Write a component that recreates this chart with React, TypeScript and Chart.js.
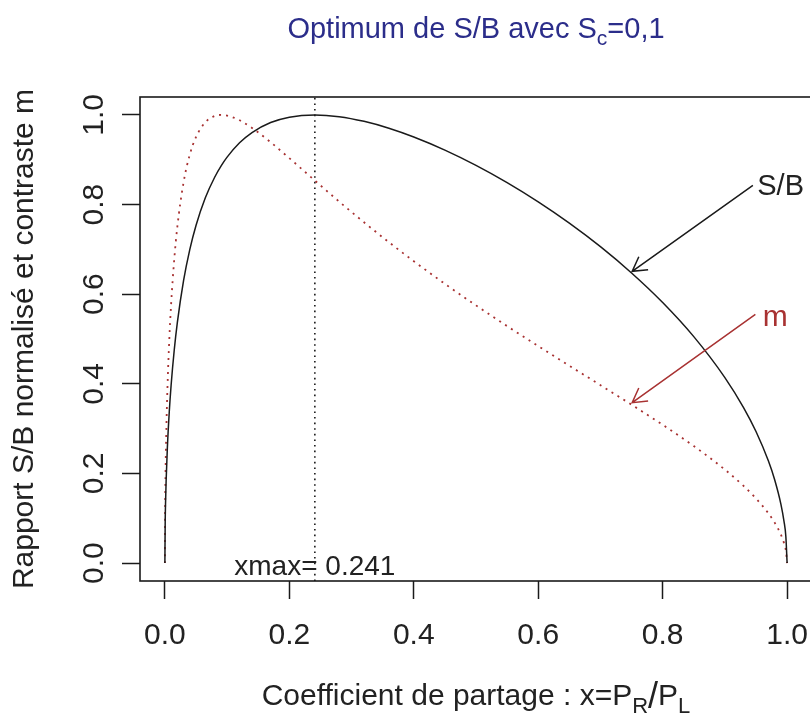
import { useEffect, useRef } from "react";
import { Chart, registerables } from "chart.js";

Chart.register(...registerables);

const FONT = "'Liberation Sans', Arial, Helvetica, sans-serif";
const INK = "#1a1a1a";
const TXT = "#222222";
const RED = "#a83232";
const NAVY = "#2b2d8a";

// Axes
const xLimits = [-0.04, 1.04];
const yLimits = [-0.04, 1.04];
const xTicks = [0, 0.2, 0.4, 0.6, 0.8, 1.0];
const yTicks = [0, 0.2, 0.4, 0.6, 0.8, 1.0];

// Partition coefficient samples
const xs = [0, 0.0005, 0.001, 0.002, 0.004, 0.007, 0.01, 0.015, 0.02, 0.03, 0.04, 0.05, 0.065, 0.08, 0.0909, 0.1, 0.12, 0.14, 0.17, 0.2, 0.241, 0.28, 0.32, 0.36, 0.4, 0.45, 0.5, 0.55, 0.6, 0.65, 0.7, 0.75, 0.8, 0.85, 0.9, 0.93, 0.95, 0.97, 0.98, 0.99, 0.995, 0.998, 1.0];

// S/B normalised (solid black)
const sbY = [0, 0.0928, 0.131, 0.1843, 0.2581, 0.3366, 0.3967, 0.4749, 0.5364, 0.6301, 0.6994, 0.7533, 0.815, 0.861, 0.8874, 0.9059, 0.9378, 0.9607, 0.983, 0.995, 1.0, 0.9961, 0.9857, 0.9703, 0.9507, 0.9215, 0.8874, 0.8489, 0.806, 0.7585, 0.706, 0.6474, 0.5814, 0.5053, 0.4139, 0.3469, 0.2935, 0.2276, 0.186, 0.1316, 0.0931, 0.0589, 0];

// contrast m (dotted red)
const mY = [0, 0.1408, 0.1981, 0.2776, 0.3853, 0.4961, 0.5773, 0.6773, 0.7504, 0.8495, 0.9113, 0.9506, 0.9837, 0.9976, 1.0, 0.9986, 0.9881, 0.971, 0.939, 0.9035, 0.8536, 0.8067, 0.7604, 0.716, 0.6736, 0.6231, 0.575, 0.5288, 0.4841, 0.4404, 0.397, 0.3534, 0.3085, 0.2611, 0.2085, 0.1722, 0.1443, 0.1109, 0.0902, 0.0635, 0.0448, 0.0283, 0];

// optimum
const xmax = 0.241;
const xmaxLabel = "xmax= 0.241";
const xmaxLabelY = -0.009;

// annotations (data coordinates)
const sbArrowFrom = [0.945, 0.843];
const sbArrowTo = [0.751, 0.651];
const sbLabelAt = [0.952, 0.839];
const mArrowFrom = [0.949, 0.555];
const mArrowTo = [0.751, 0.358];
const mLabelAt = [0.961, 0.548];

type Part = { t: string; size: number; dy: number };

function drawRich(ctx: CanvasRenderingContext2D, parts: Part[], cx: number, baseline: number, color: string) {
  let total = 0;
  const widths = parts.map((p) => {
    ctx.font = `${p.size}px ${FONT}`;
    const w = ctx.measureText(p.t).width;
    total += w;
    return w;
  });
  let x = cx - total / 2;
  ctx.fillStyle = color;
  ctx.textAlign = "left";
  ctx.textBaseline = "alphabetic";
  parts.forEach((p, i) => {
    ctx.font = `${p.size}px ${FONT}`;
    ctx.fillText(p.t, x, baseline + p.dy);
    x += widths[i];
  });
}

function drawArrow(ctx: CanvasRenderingContext2D, x0: number, y0: number, x1: number, y1: number, color: string) {
  const len = 16;
  const ang = Math.atan2(y0 - y1, x0 - x1);
  ctx.strokeStyle = color;
  ctx.lineWidth = 1.5;
  ctx.beginPath();
  ctx.moveTo(x0, y0);
  ctx.lineTo(x1, y1);
  ctx.moveTo(x1 + len * Math.cos(ang + Math.PI / 6), y1 + len * Math.sin(ang + Math.PI / 6));
  ctx.lineTo(x1, y1);
  ctx.lineTo(x1 + len * Math.cos(ang - Math.PI / 6), y1 + len * Math.sin(ang - Math.PI / 6));
  ctx.stroke();
}

const rPlot = {
  id: "rPlot",
  afterDraw(chart: any) {
    const { ctx, chartArea: a, scales } = chart;
    const sx = scales.x;
    const sy = scales.y;
    const px = (v: number) => sx.getPixelForValue(v);
    const py = (v: number) => sy.getPixelForValue(v);
    ctx.save();
    // box
    ctx.strokeStyle = INK;
    ctx.lineWidth = 1.6;
    ctx.strokeRect(a.left, a.top, a.right - a.left, a.bottom - a.top);

    // arrows
    drawArrow(ctx, px(sbArrowFrom[0]), py(sbArrowFrom[1]), px(sbArrowTo[0]), py(sbArrowTo[1]), INK);
    drawArrow(ctx, px(mArrowFrom[0]), py(mArrowFrom[1]), px(mArrowTo[0]), py(mArrowTo[1]), RED);

    // labels
    ctx.textBaseline = "middle";
    ctx.textAlign = "left";
    ctx.font = `29px ${FONT}`;
    ctx.fillStyle = TXT;
    ctx.fillText("S/B", px(sbLabelAt[0]), py(sbLabelAt[1]));
    ctx.font = `30px ${FONT}`;
    ctx.fillStyle = RED;
    ctx.fillText("m", px(mLabelAt[0]), py(mLabelAt[1]));
    ctx.textAlign = "center";
    ctx.font = `28px ${FONT}`;
    ctx.fillStyle = TXT;
    ctx.fillText(xmaxLabel, px(xmax), py(xmaxLabelY));

    const cx = (a.left + a.right) / 2;
    const cy = (a.top + a.bottom) / 2;

    // main title
    drawRich(
      ctx,
      [
        { t: "Optimum de S/B avec S", size: 29, dy: 0 },
        { t: "c", size: 21, dy: 7 },
        { t: "=0,1", size: 29, dy: 0 },
      ],
      cx,
      a.top - 59,
      NAVY
    );

    // x title
    drawRich(
      ctx,
      [
        { t: "Coefficient de partage : x=P", size: 30, dy: 0 },
        { t: "R", size: 22, dy: 8 },
        { t: "/", size: 36, dy: 3 },
        { t: "P", size: 30, dy: 0 },
        { t: "L", size: 22, dy: 8 },
      ],
      cx,
      a.bottom + 124,
      TXT
    );

    // y title
    ctx.translate(a.left - 107, cy);
    ctx.rotate(-Math.PI / 2);
    ctx.font = `30px ${FONT}`;
    ctx.fillStyle = TXT;
    ctx.textAlign = "center";
    ctx.textBaseline = "alphabetic";
    ctx.fillText("Rapport S/B normalisé et contraste m", 0, 0);
    ctx.restore();
  },
};

export default function App() {
  const ref = useRef<HTMLCanvasElement | null>(null);

  useEffect(() => {
    if (!ref.current) return;
    const sbData = xs.map((x, i) => ({ x, y: sbY[i] }));
    const mData = xs.map((x, i) => ({ x, y: mY[i] }));
    const vData = [
      { x: xmax, y: yLimits[0] },
      { x: xmax, y: yLimits[1] },
    ];
    const tickFont = { family: FONT, size: 30 };
    const chart = new Chart(ref.current, {
      type: "line",
      data: {
        datasets: [
          {
            label: "S/B",
            data: sbData,
            borderColor: INK,
            borderWidth: 1.5,
            pointRadius: 0,
            cubicInterpolationMode: "monotone",
          },
          {
            label: "m",
            data: mData,
            borderColor: RED,
            borderWidth: 1.8,
            borderDash: [2, 5],
            pointRadius: 0,
            cubicInterpolationMode: "monotone",
          },
          {
            label: "xmax",
            data: vData,
            borderColor: INK,
            borderWidth: 1.6,
            borderDash: [1.6, 4],
            pointRadius: 0,
          },
        ],
      },
      options: {
        animation: false,
        responsive: true,
        maintainAspectRatio: false,
        devicePixelRatio: 1,
        parsing: false,
        normalized: true,
        events: [],
        layout: { padding: { top: 97, right: 18, left: 0, bottom: 0 } },
        plugins: { legend: { display: false }, title: { display: false }, tooltip: { enabled: false } },
        scales: {
          x: {
            type: "linear",
            min: xLimits[0],
            max: xLimits[1],
            afterBuildTicks: (s: any) => {
              s.ticks = xTicks.map((v) => ({ value: v }));
            },
            afterFit: (s: any) => {
              s.height = 137;
            },
            border: { display: false },
            grid: {
              drawOnChartArea: false,
              drawTicks: true,
              tickLength: 18,
              tickColor: INK,
              tickWidth: 1.5,
              color: INK,
            },
            ticks: {
              font: tickFont,
              color: TXT,
              padding: 19,
              maxRotation: 0,
              minRotation: 0,
              autoSkip: false,
              callback: (v: any) => Number(v).toFixed(1),
            },
          },
          y: {
            type: "linear",
            min: yLimits[0],
            max: yLimits[1],
            afterBuildTicks: (s: any) => {
              s.ticks = yTicks.map((v) => ({ value: v }));
            },
            afterFit: (s: any) => {
              s.width = 140;
            },
            border: { display: false },
            grid: {
              drawOnChartArea: false,
              drawTicks: true,
              tickLength: 18,
              tickColor: INK,
              tickWidth: 1.5,
              color: INK,
            },
            ticks: {
              font: tickFont,
              color: TXT,
              padding: 6,
              minRotation: 90,
              maxRotation: 90,
              crossAlign: "center",
              autoSkip: false,
              callback: (v: any) => Number(v).toFixed(1),
            },
          },
        },
      },
      plugins: [rPlot],
    } as any);
    return () => chart.destroy();
  }, []);

  return (
    <div style={{ position: "absolute", left: 0, top: 0, width: 810, height: 718, overflow: "hidden", background: "#fff" }}>
      <div style={{ position: "relative", width: 830, height: 718 }}>
        <canvas ref={ref} />
      </div>
    </div>
  );
}
